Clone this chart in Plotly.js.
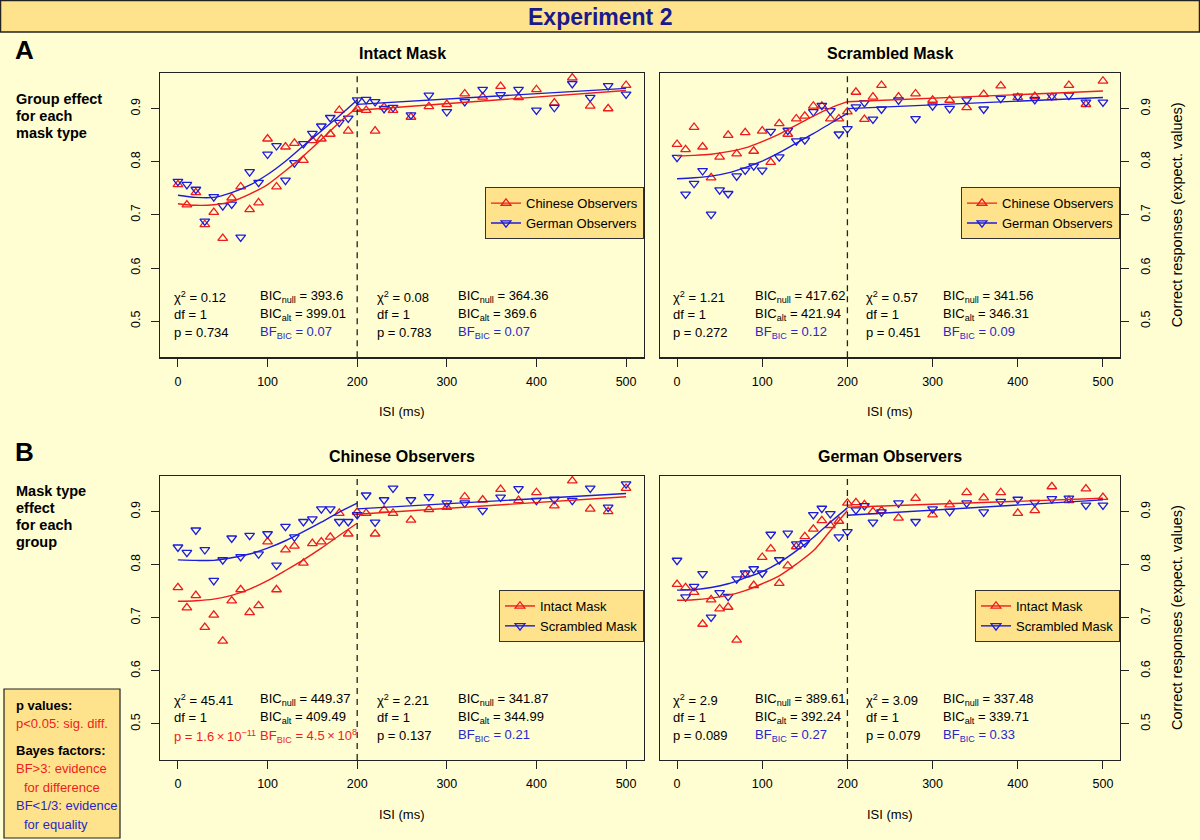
<!DOCTYPE html>
<html><head><meta charset="utf-8">
<script src="https://cdn.plot.ly/plotly-3.0.1.min.js"></script>
<style>html,body{margin:0;padding:0;background:#FFFDD2;}#chart{width:1200px;height:840px;}</style>
</head><body><div id="chart"></div>
<script>
// ---------- data ----------
const ISI = [0,10,20,30,40,50,60,70,80,90,100,110,120,130,140,150,160,170,180,190,200,210,220,230,240,260,280,300,320,340,360,380,400,420,440,460,480,500];
const chineseIntact = [0.757,0.719,0.742,0.682,0.705,0.656,0.732,0.753,0.710,0.723,0.843,0.753,0.828,0.835,0.803,0.840,0.843,0.852,0.897,0.858,0.899,0.897,0.858,0.903,0.897,0.884,0.904,0.908,0.928,0.922,0.942,0.921,0.936,0.911,0.958,0.905,0.900,0.944];
const germanIntact = [0.763,0.757,0.748,0.688,0.734,0.717,0.720,0.658,0.781,0.761,0.814,0.830,0.765,0.798,0.834,0.853,0.867,0.883,0.874,0.882,0.916,0.917,0.913,0.900,0.902,0.888,0.925,0.894,0.913,0.936,0.926,0.936,0.897,0.902,0.947,0.921,0.943,0.927];
const chineseScrambled = [0.833,0.823,0.865,0.828,0.770,0.809,0.850,0.815,0.855,0.820,0.858,0.799,0.872,0.852,0.881,0.886,0.905,0.905,0.881,0.881,0.894,0.931,0.880,0.922,0.944,0.922,0.928,0.916,0.916,0.902,0.927,0.943,0.921,0.923,0.921,0.944,0.908,0.952];
const germanScrambled = [0.808,0.739,0.759,0.783,0.701,0.747,0.740,0.773,0.784,0.792,0.784,0.857,0.809,0.859,0.839,0.841,0.894,0.906,0.896,0.852,0.862,0.903,0.911,0.880,0.899,0.916,0.881,0.905,0.900,0.916,0.899,0.919,0.923,0.917,0.924,0.925,0.912,0.912];

// fitted curves (early: 0-200 ms, late: 200-500 ms)
const FIT_X_EARLY = [0,20,40,60,80,100,120,140,160,180,200];
const FIT_X_LATE = [200,500];
const fitA1RedEarly = [0.721,0.718,0.719,0.725,0.739,0.757,0.783,0.811,0.842,0.874,0.902];
const fitA1RedLate = [0.897,0.934];
const fitA1BlueEarly = [0.737,0.733,0.733,0.742,0.756,0.776,0.801,0.830,0.858,0.886,0.916];
const fitA1BlueLate = [0.908,0.938];
const fitA2RedEarly = [0.811,0.812,0.814,0.819,0.826,0.838,0.852,0.869,0.886,0.901,0.913];
const fitA2RedLate = [0.913,0.933];
const fitA2BlueEarly = [0.768,0.770,0.773,0.779,0.789,0.801,0.817,0.835,0.853,0.872,0.891];
const fitA2BlueLate = [0.900,0.921];
const fitB1RedEarly = [0.731,0.732,0.735,0.742,0.754,0.770,0.789,0.809,0.831,0.855,0.878];
const fitB1RedLate = [0.895,0.928];
const fitB1BlueEarly = [0.809,0.808,0.808,0.813,0.820,0.831,0.845,0.862,0.880,0.899,0.916];
const fitB1BlueLate = [0.905,0.934];
const fitB2RedEarly = [0.733,0.734,0.737,0.742,0.751,0.764,0.779,0.801,0.826,0.864,0.902];
const fitB2RedLate = [0.908,0.925];
const fitB2BlueEarly = [0.752,0.753,0.757,0.764,0.775,0.787,0.804,0.826,0.851,0.880,0.907];
const fitB2BlueLate = [0.893,0.922];

// statistics (per panel: [before 200 ms, after 200 ms])
const chiSq = [[0.12,0.08],[1.21,0.57],[45.41,2.21],[2.9,3.09]];
const dfs = [[1,1],[1,1],[1,1],[1,1]];
const pValues = [[0.734,0.783],[0.272,0.451],[1.6e-11,0.137],[0.089,0.079]];
const bicNull = [[393.6,364.36],[417.62,341.56],[449.37,341.87],[389.61,337.48]];
const bicAlt = [[399.01,369.6],[421.94,346.31],[409.49,344.99],[392.24,339.71]];
const bfBic = [[0.07,0.07],[0.12,0.09],[4.5e8,0.21],[0.27,0.33]];

const X_TICKS = [0,100,200,300,400,500];
const Y_TICKS = [0.5,0.6,0.7,0.8,0.9];
const SPLIT_ISI = 200;

// ---------- style ----------
const FONT = 'Liberation Sans, Arimo, Arial, sans-serif';
const BG = '#FFFDD2';
const GOLD = '#FFE38C';
const RED = '#EE1C1C';
const BLUE = '#1C1CDD';
const TXT_BLUE = '#2828C8';
const W = 1200, H = 840;
const px = v => v / W;
const py = v => 1 - v / H;

const panels = [
  {n:'', leg:'legend', red:chineseIntact, blue:germanIntact, names:['Chinese Observers','German Observers'],
   fits:[fitA1RedEarly,fitA1RedLate,fitA1BlueEarly,fitA1BlueLate], xd:[160,644], yd:[73,357.3], title:'Intact Mask', side:'left'},
  {n:'2', leg:'legend2', red:chineseScrambled, blue:germanScrambled, names:['Chinese Observers','German Observers'],
   fits:[fitA2RedEarly,fitA2RedLate,fitA2BlueEarly,fitA2BlueLate], xd:[660,1120], yd:[73,357.3], title:'Scrambled Mask', side:'right'},
  {n:'3', leg:'legend3', red:chineseIntact, blue:chineseScrambled, names:['Intact Mask','Scrambled Mask'],
   fits:[fitB1RedEarly,fitB1RedLate,fitB1BlueEarly,fitB1BlueLate], xd:[160,644], yd:[476,760], title:'Chinese Observers', side:'left'},
  {n:'4', leg:'legend4', red:germanIntact, blue:germanScrambled, names:['Intact Mask','Scrambled Mask'],
   fits:[fitB2RedEarly,fitB2RedLate,fitB2BlueEarly,fitB2BlueLate], xd:[660,1120], yd:[476,760], title:'German Observers', side:'right'}
];

const traces = [];
const layout = {
  width: W, height: H,
  margin: {l:0, r:0, t:0, b:0},
  paper_bgcolor: BG, plot_bgcolor: BG,
  font: {family: FONT, size: 13, color: '#000'},
  showlegend: true,
  shapes: [], annotations: []
};

function fmtSci(v) {
  const e = Math.floor(Math.log10(v));
  const m = v / Math.pow(10, e);
  return m.toFixed(1) + '\u2009×\u200910<sup>' + (e < 0 ? '\u2212' + (-e) : e) + '</sup>';
}
function fmtP(v) { return v < 0.001 ? fmtSci(v) : String(v); }
function fmtBF(v) { return v >= 1000 ? fmtSci(v) : String(v); }

panels.forEach((p, i) => {
  const xa = 'x' + p.n, ya = 'y' + p.n;
  const mk = (sym, col) => ({symbol: sym, size: 8.5, color: col, line: {color: col, width: 1.3}});
  // data points
  traces.push({x: ISI, y: p.red, xaxis: xa, yaxis: ya, mode: 'markers', marker: mk('triangle-up-open', RED), showlegend: false, hoverinfo: 'skip'});
  traces.push({x: ISI, y: p.blue, xaxis: xa, yaxis: ya, mode: 'markers', marker: mk('triangle-down-open', BLUE), showlegend: false, hoverinfo: 'skip'});
  // fitted curves
  [[p.fits[0], FIT_X_EARLY, RED], [p.fits[1], FIT_X_LATE, RED], [p.fits[2], FIT_X_EARLY, BLUE], [p.fits[3], FIT_X_LATE, BLUE]].forEach(f => {
    traces.push({x: f[1], y: f[0], xaxis: xa, yaxis: ya, mode: 'lines', line: {color: f[2], width: 1.4, shape: 'spline', smoothing: 0.8}, showlegend: false, hoverinfo: 'skip'});
  });
  // legend entries
  traces.push({x: [null], y: [null], xaxis: xa, yaxis: ya, mode: 'lines+markers', name: p.names[0], legend: p.leg,
    line: {color: RED, width: 1.4}, marker: mk('triangle-up-open', RED)});
  traces.push({x: [null], y: [null], xaxis: xa, yaxis: ya, mode: 'lines+markers', name: p.names[1], legend: p.leg,
    line: {color: BLUE, width: 1.4}, marker: mk('triangle-down-open', BLUE)});

  layout['xaxis' + p.n] = {
    domain: [px(p.xd[0]), px(p.xd[1])], anchor: ya, range: [-20, 520],
    tickvals: X_TICKS, ticktext: X_TICKS.map(String), ticks: 'outside', ticklen: 8, tickwidth: 1, tickcolor: '#222',
    showline: true, mirror: true, linecolor: '#222', linewidth: 1.2, showgrid: false, zeroline: false,
    tickfont: {size: 12.5, color: '#000'}, ticklabelstandoff: 4, fixedrange: true
  };
  layout['yaxis' + p.n] = {
    domain: [py(p.yd[1]), py(p.yd[0])], anchor: xa, side: p.side, range: [0.432, 0.967],
    tickvals: Y_TICKS, ticktext: Y_TICKS.map(v => v.toFixed(1)), tickangle: -90, ticks: 'outside', ticklen: 8, tickwidth: 1, tickcolor: '#222',
    showline: true, mirror: true, linecolor: '#222', linewidth: 1.2, showgrid: false, zeroline: false,
    tickfont: {size: 12.5, color: '#000'}, ticklabelstandoff: 6, fixedrange: true
  };
  layout[p.leg] = {
    x: px(p.xd[1]), xanchor: 'right', y: py((p.yd[0] + p.yd[1]) / 2 - 2), yanchor: 'middle',
    bgcolor: GOLD, bordercolor: '#333', borderwidth: 1, font: {size: 13, color: '#000', family: FONT},
    itemwidth: 30, tracegroupgap: 0
  };
  // dashed split line
  layout.shapes.push({type: 'line', xref: xa, yref: ya + ' domain', x0: SPLIT_ISI, x1: SPLIT_ISI, y0: 0, y1: 1,
    line: {color: '#222', width: 1.3, dash: '6px,5px'}});
  // panel title
  const cx = (p.xd[0] + p.xd[1]) / 2;
  layout.annotations.push({xref: 'paper', yref: 'paper', x: px(cx), y: py(p.yd[0] - 19.5), text: '<b>' + p.title + '</b>',
    showarrow: false, font: {size: 16, color: '#000'}, xanchor: 'center', yanchor: 'middle'});
  // x title
  layout.annotations.push({xref: 'paper', yref: 'paper', x: px(cx), y: py(p.yd[1] + 54), text: 'ISI (ms)',
    showarrow: false, font: {size: 13, color: '#000'}, xanchor: 'center', yanchor: 'middle'});
  // right y title
  if (p.side === 'right') {
    layout.annotations.push({xref: 'paper', yref: 'paper', x: px(1177), y: py((p.yd[0] + p.yd[1]) / 2), text: 'Correct responses (expect. values)',
      textangle: -90, showarrow: false, font: {size: 14.5, color: '#000'}, xanchor: 'center', yanchor: 'middle'});
  }
  // statistics text
  const COLX = [[-7, 89], [220, 310]];
  const ROWY = [p.yd[0] + 223.5, p.yd[0] + 241.3, p.yd[0] + 259.5];
  [0, 1].forEach(h => {
    const pv = pValues[i][h], bf = bfBic[i][h];
    const pCol = pv < 0.05 ? RED : '#000';
    const bfCol = bf > 3 ? RED : (bf < 1 / 3 ? TXT_BLUE : '#000');
    const cells = [
      [COLX[h][0], ROWY[0], '\u03c7<sup>2</sup> = ' + chiSq[i][h], '#000'],
      [COLX[h][0], ROWY[1], 'df = ' + dfs[i][h], '#000'],
      [COLX[h][0], ROWY[2], 'p = ' + fmtP(pv), pCol],
      [COLX[h][1], ROWY[0], 'BIC<sub>null</sub> = ' + bicNull[i][h], '#000'],
      [COLX[h][1], ROWY[1], 'BIC<sub>alt</sub> = ' + bicAlt[i][h], '#000'],
      [COLX[h][1], ROWY[2], 'BF<sub>BIC</sub> = ' + fmtBF(bf), bfCol]
    ];
    cells.forEach(c => {
      layout.annotations.push({xref: xa, yref: 'paper', x: c[0], y: py(c[1]), text: c[2], showarrow: false,
        font: {size: 13, color: c[3]}, xanchor: 'left', yanchor: 'middle'});
    });
  });
});

// banner
layout.shapes.push({type: 'rect', xref: 'paper', yref: 'paper', x0: px(0.5), x1: px(1199.5), y0: py(32), y1: py(0.5),
  fillcolor: GOLD, line: {color: '#222', width: 1.5}, layer: 'below'});
layout.annotations.push({xref: 'paper', yref: 'paper', x: 0.5, y: py(16.5), text: '<b>Experiment 2</b>', showarrow: false,
  font: {size: 23, color: '#1A1A8C'}, xanchor: 'center', yanchor: 'middle'});
// panel letters
[['A', 50], ['B', 452]].forEach(l => layout.annotations.push({xref: 'paper', yref: 'paper', x: px(13), y: py(l[1]), text: '<b>' + l[0] + '</b>',
  showarrow: false, font: {size: 26, color: '#000'}, xanchor: 'left', yanchor: 'middle'}));
// row labels
const rowLabelA = ['Group effect', 'for each', 'mask type'];
const rowLabelB = ['Mask type', 'effect', 'for each', 'group'];
rowLabelA.forEach((t, k) => layout.annotations.push({xref: 'paper', yref: 'paper', x: px(13.5), y: py(99 + 17 * k), text: '<b>' + t + '</b>',
  showarrow: false, font: {size: 14.5, color: '#000'}, xanchor: 'left', yanchor: 'middle'}));
rowLabelB.forEach((t, k) => layout.annotations.push({xref: 'paper', yref: 'paper', x: px(13.5), y: py(491 + 17 * k), text: '<b>' + t + '</b>',
  showarrow: false, font: {size: 14.5, color: '#000'}, xanchor: 'left', yanchor: 'middle'}));
// key box
layout.shapes.push({type: 'rect', xref: 'paper', yref: 'paper', x0: px(4), x1: px(120), y0: py(838), y1: py(689),
  fillcolor: GOLD, line: {color: '#222', width: 1.2}, layer: 'below'});
const keyLines = [
  ['<b>p values:</b>', '#000', 14, 705],
  ['p&lt;0.05: sig. diff.', RED, 14, 723],
  ['<b>Bayes factors:</b>', '#000', 14, 750],
  ['BF&gt;3: evidence', RED, 14, 768],
  ['for difference', RED, 21.5, 787],
  ['BF&lt;1/3: evidence', TXT_BLUE, 14, 805],
  ['for equality', TXT_BLUE, 21.5, 824]
];
keyLines.forEach(k => layout.annotations.push({xref: 'paper', yref: 'paper', x: px(k[2]), y: py(k[3]), text: k[0], showarrow: false,
  font: {size: 13, color: k[1]}, xanchor: 'left', yanchor: 'middle'}));

Plotly.newPlot('chart', traces, layout, {displayModeBar: false, staticPlot: true});
</script>
</body></html>
